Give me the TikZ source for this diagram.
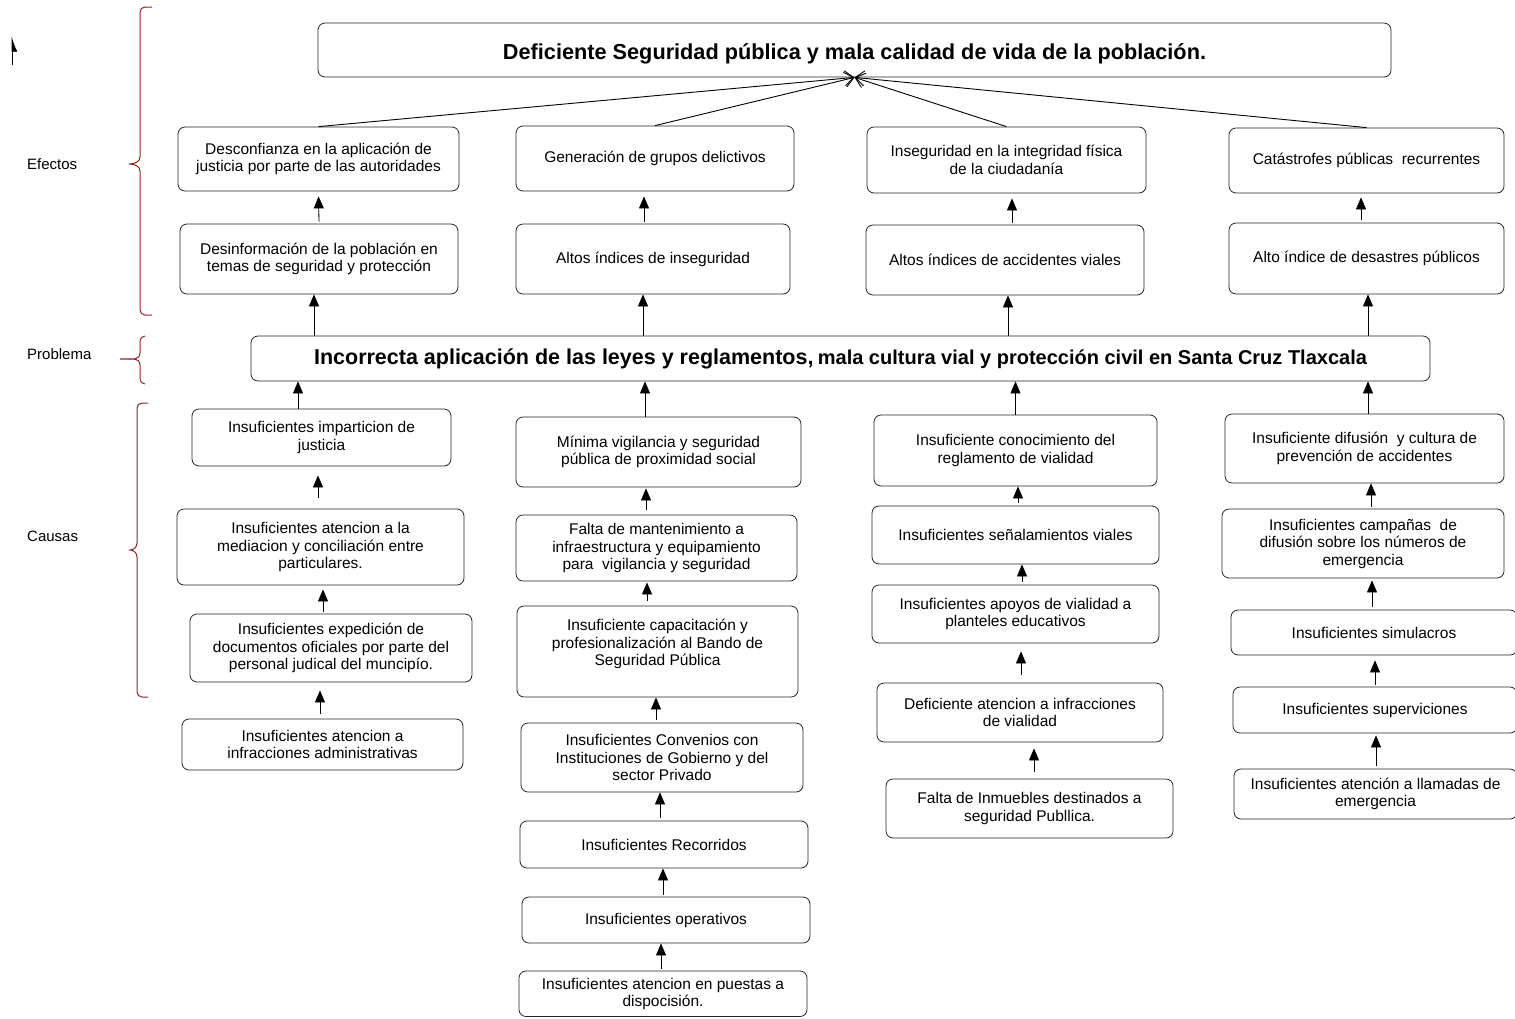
\documentclass[tikz,border=0pt]{standalone}
\usepackage{fontspec}
\setmainfont{Liberation Sans}
\usetikzlibrary{arrows.meta}
\definecolor{bracecol}{RGB}{150,32,38}
\newcommand{\bx}[6]{\node[box, minimum width={(#4)-(#2)}, minimum height={(#5)-(#3)}] (#1) at ({((#2)+(#4))/2},{((#3)+(#5))/2}) {#6};}
\newcommand{\arup}[6]{\draw[arr, shorten <=#5pt, shorten >=#6pt] ([xshift=#3pt]#1.north) -- ([xshift=#4pt]#2.south);}
\tikzset{
  box/.style={draw=black!85, line width=0.8pt, rounded corners=7pt, align=center, inner sep=1pt,
    font=\fontsize{15.5}{17.5}\selectfont},
  arr/.style={-{Triangle[length=12pt,width=10pt]}, line width=0.8pt, black},
  conv/.style={-{Straight Barb[length=9pt,width=15pt]}, line width=0.9pt, black},
  brace/.style={draw=bracecol, line width=1pt},
  lab/.style={anchor=west, inner sep=0pt, font=\fontsize{15}{17}\selectfont}
}
\begin{document}
\begin{tikzpicture}[x=1pt,y=-1pt]
\useasboundingbox (0,0) rectangle (1515,1018);
% side labels and braces
\node[lab] (lefec) at (27,164) {Efectos};
\node[lab] (lprob) at (27,354) {Problema};
\node[lab] (lcaus) at (27,536) {Causas};
\draw[brace] (152,7) -- (145,7) to[out=180,in=90] (140,12) -- (140,157) to[out=-90,in=0] (129,164) to[out=0,in=90] (140,171) -- (140,310) to[out=-90,in=180] (145,315) -- (152,315);
\draw[brace] (145,336) to[out=180,in=90] (140,341) -- (140,353) to[out=-90,in=0] (120,359) to[out=0,in=90] (140,365) -- (140,379) to[out=-90,in=180] (145,384);
\draw[brace] (148,403) -- (142,403) to[out=180,in=90] (137,408) -- (137,543) to[out=-90,in=0] (130,550) to[out=0,in=90] (137,557) -- (137,692) to[out=-90,in=180] (142,697) -- (148,697);
% stray arrow
\coordinate (sa1) at (12,65);
\coordinate (sa2) at (12,36);
\draw[-{Latex[length=14pt,width=11pt,right]}, line width=0.9pt] (sa1) -- (sa2);
% top
\bx{top}{318}{23}{1391}{77}{\smash{\raisebox{-9pt}{\fontsize{21.7}{25}\selectfont\bfseries Deficiente Seguridad pública y mala calidad de vida de la población.}}}
% effects
\bx{E1}{178}{127}{459}{191}{Desconfianza en la aplicación de\\justicia por parte de las autoridades}
\bx{E2}{516}{126}{794}{191}{Generación de grupos delictivos}
\bx{E3}{867}{127}{1146}{193}{Inseguridad en la integridad física\\de la ciudadanía}
\bx{E4}{1229}{128}{1504}{193}{Catástrofes públicas\ \ recurrentes}
\bx{E1b}{180}{224}{458}{294}{Desinformación de la población en\\temas de seguridad y protección}
\bx{E2b}{516}{224}{790}{294}{Altos índices de inseguridad}
\bx{E3b}{866}{225}{1144}{295}{Altos índices de accidentes viales}
\bx{E4b}{1229}{223}{1504}{294}{Alto índice de desastres públicos}
% problem
\bx{prob}{251}{336}{1430}{381}{\bfseries{\fontsize{21.5}{24}\selectfont Incorrecta aplicación de las leyes y reglamentos,} {\fontsize{20}{24}\selectfont mala cultura vial y protección civil en Santa Cruz Tlaxcala}}
% causes col 1
\bx{C1a}{192}{409}{451}{466}{Insuficientes imparticion de\\justicia}
\bx{C1b}{177}{509}{464}{585}{Insuficientes atencion a la\\mediacion y conciliación entre\\particulares.}
\bx{C1c}{190}{614}{472}{682}{Insuficientes expedición de\\documentos oficiales por parte del\\personal judical del muncipío.}
\bx{C1d}{182}{719}{463}{770}{Insuficientes atencion a\\infracciones administrativas}
% col 2
\bx{C2a}{516}{417}{801}{487}{Mínima vigilancia y seguridad\\pública de proximidad social}
\bx{C2b}{516}{515}{797}{581}{Falta de mantenimiento a\\infraestructura y equipamiento\\para\ \ vigilancia y seguridad}
\bx{C2c}{517}{606}{798}{697}{Insuficiente capacitación y\\profesionalización al Bando de\\Seguridad Pública\\ \mbox{}}
\bx{C2d}{521}{723}{803}{792}{Insuficientes Convenios con\\Instituciones de Gobierno y del\\sector Privado}
\bx{C2e}{520}{821}{808}{868}{Insuficientes Recorridos}
\bx{C2f}{522}{897}{810}{943}{Insuficientes operativos}
\bx{C2g}{519}{971}{807}{1016.5}{Insuficientes atencion en puestas a\\dispocisión.}
% col 3
\bx{C3a}{874}{415}{1157}{486}{Insuficiente conocimiento del\\reglamento de vialidad}
\bx{C3b}{872}{506}{1159}{564}{Insuficientes señalamientos viales}
\bx{C3c}{872}{585}{1159}{643}{Insuficientes apoyos de vialidad a\\planteles educativos}
\bx{C3d}{877}{683}{1163}{742}{Deficiente atencion a infracciones\\de vialidad}
\bx{C3e}{886}{779}{1173}{838}{Falta de Inmuebles destinados a\\seguridad Publlica.}
% col 4
\bx{C4a}{1225}{414}{1504}{483}{Insuficiente difusión\ \ y cultura de\\prevención de accidentes}
\bx{C4b}{1222}{509}{1504}{578}{Insuficientes campañas\ \ de\\difusión sobre los números de\\emergencia}
\bx{C4c}{1231}{610}{1517}{655}{Insuficientes simulacros}
\bx{C4d}{1233}{687}{1517}{733}{Insuficientes superviciones}
\bx{C4e}{1234}{769}{1517}{819}{Insuficientes atención a llamadas de\\emergencia}
% effects to top
\foreach \e in {E1,E2,E3,E4} \draw[conv] (\e.north) -- (top.south);
% lower effects to upper effects
\arup{E1b}{E1}{0}{0}{2}{5}
\arup{E2b}{E2}{-9}{-11}{2}{5}
\arup{E3b}{E3}{7}{5.5}{2}{5}
\arup{E4b}{E4}{-5.5}{-5.5}{3}{4}
% problem to effects
\draw[arr] ([xshift=-5pt]E1b.south |- prob.north) -- ([xshift=-5pt]E1b.south);
\draw[arr] ([xshift=-10pt]E2b.south |- prob.north) -- ([xshift=-10pt]E2b.south);
\draw[arr] ([xshift=3pt]E3b.south |- prob.north) -- ([xshift=3pt]E3b.south);
\draw[arr] ([xshift=1.5pt]E4b.south |- prob.north) -- ([xshift=1.5pt]E4b.south);
% causes to problem
\draw[arr] ([xshift=-23.5pt]C1a.north) -- ([xshift=-23.5pt]C1a.north |- prob.south);
\draw[arr] ([xshift=-13.5pt]C2a.north) -- ([xshift=-13.5pt]C2a.north |- prob.south);
\draw[arr] (C3a.north) -- (C3a.north |- prob.south);
\draw[arr] ([xshift=3.5pt]C4a.north) -- ([xshift=3.5pt]C4a.north |- prob.south);
% cause chains
\arup{C1b}{C1a}{-2.5}{-3.5}{11}{9}
\arup{C1c}{C1b}{-8}{2.5}{2}{4}
\arup{C1d}{C1c}{-2.5}{-11}{5}{8}
\arup{C2b}{C2a}{-10.5}{-12.5}{5}{1}
\arup{C2c}{C2b}{-10.5}{-9.5}{5}{1}
\arup{C2d}{C2c}{-6}{-1.5}{3}{0}
\arup{C2e}{C2d}{-4}{-2}{3}{0}
\arup{C2f}{C2e}{-3}{-1}{2}{0}
\arup{C2g}{C2f}{-2}{-5}{2}{0}
\arup{C3b}{C3a}{2.5}{2.5}{3}{0}
\arup{C3c}{C3b}{6.5}{6.5}{3}{0}
\arup{C3d}{C3c}{1}{5.5}{8}{8}
\arup{C3e}{C3d}{4.5}{14}{7}{6}
\arup{C4b}{C4a}{8}{6.5}{2}{0}
\arup{C4c}{C4b}{-2}{9}{3}{2}
\arup{C4d}{C4c}{0}{1}{2}{5}
\arup{C4e}{C4d}{0.5}{1}{3}{2}
\end{tikzpicture}
\end{document}
